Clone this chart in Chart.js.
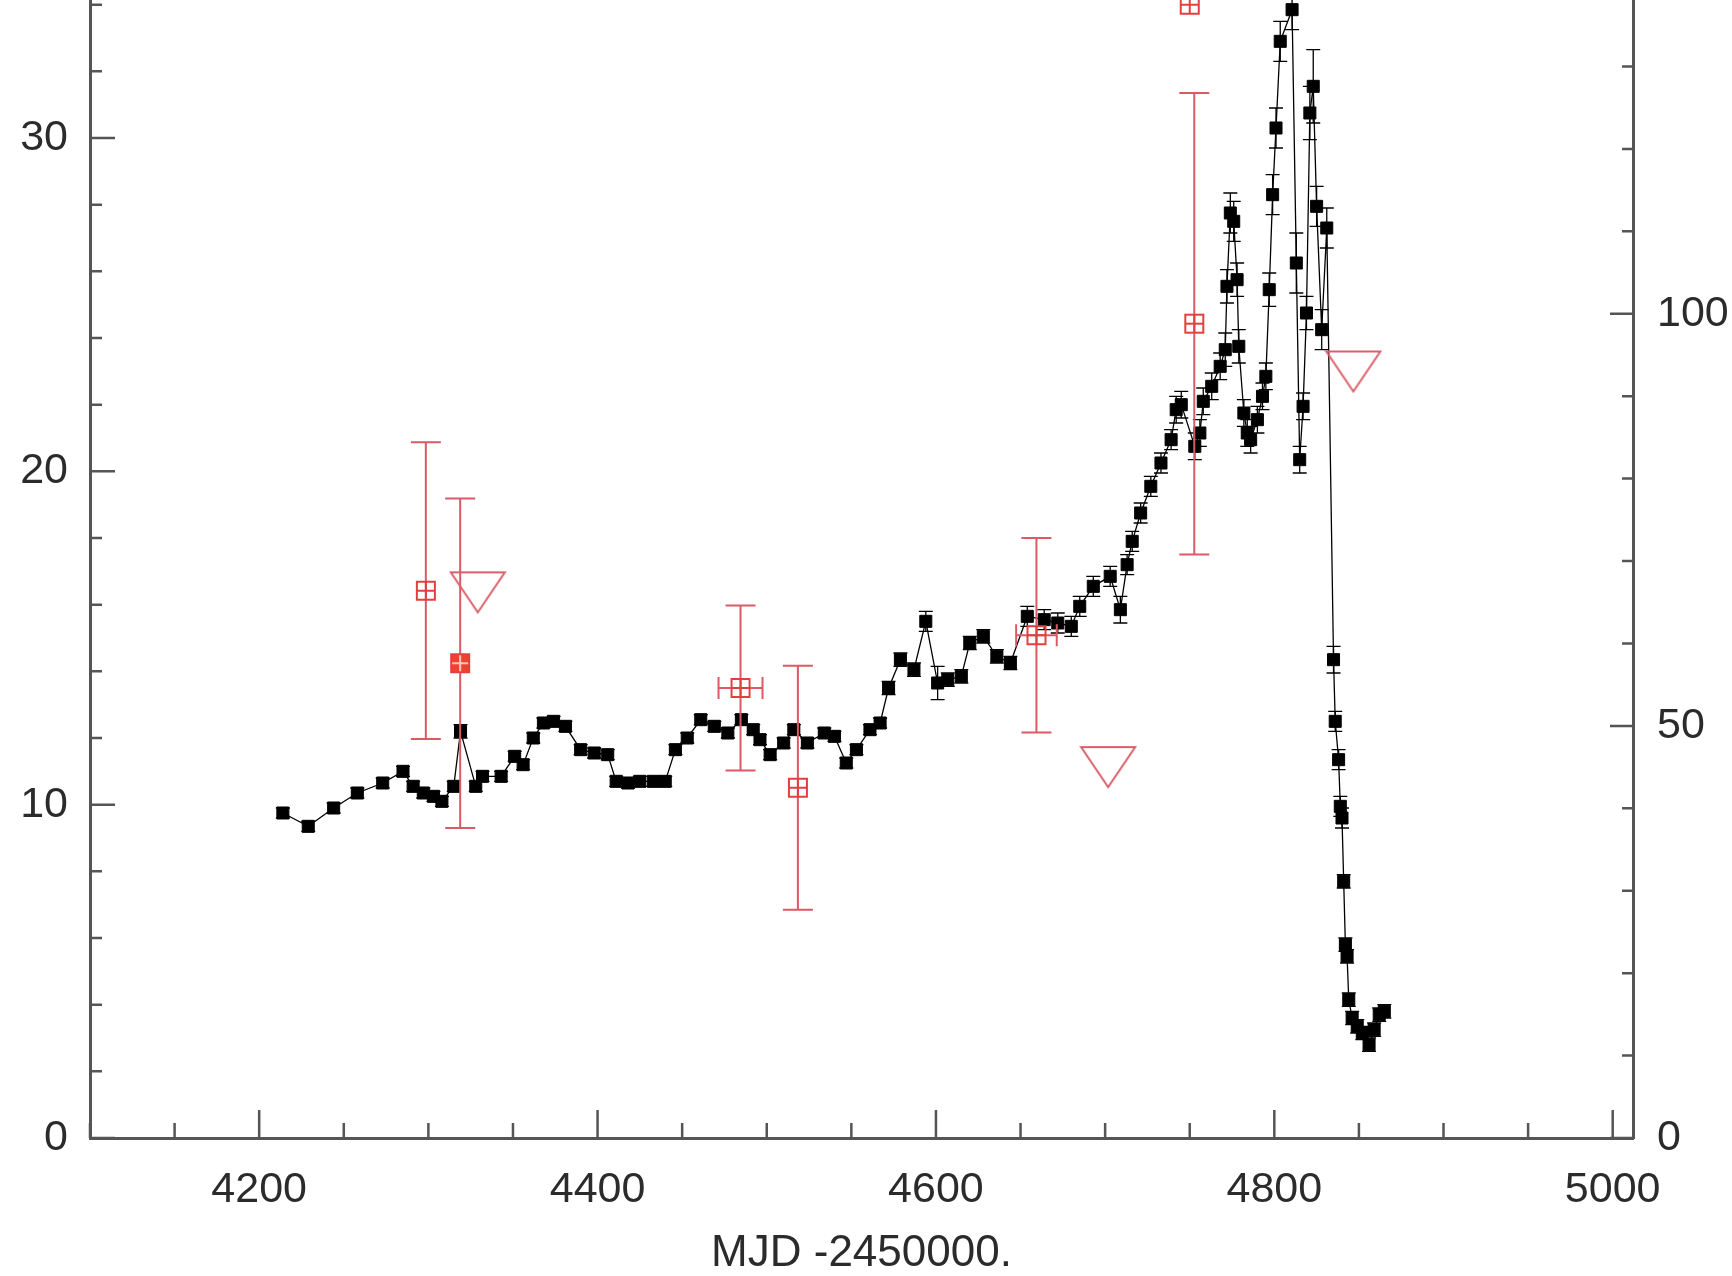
<!DOCTYPE html>
<html lang="en">
<head>
<meta charset="UTF-8">
<title>Light curve</title>
<script src="https://cdn.jsdelivr.net/npm/chart.js"></script>
<style>
    html, body { margin: 0; padding: 0; background: #fff; }
    canvas { display: block; }
</style>
</head>
<body>
<canvas id="lc" width="1732" height="1276"></canvas>
<script>
// black light curve (left axis)
const blackMjd = [
    4214, 4229, 4244, 4258, 4273, 4285, 4291, 4297, 4303, 4308,
    4315, 4319, 4328, 4332, 4343, 4351, 4356, 4362, 4368, 4374,
    4381, 4390, 4398, 4406, 4411, 4418, 4425, 4433, 4440, 4446,
    4453, 4461, 4469, 4477, 4485, 4492, 4496, 4502, 4510, 4516,
    4524, 4534, 4540, 4547, 4553, 4561, 4567, 4572, 4579, 4587,
    4594, 4601, 4607, 4615, 4620, 4628, 4636, 4644, 4654, 4664,
    4672, 4680, 4685, 4693, 4703, 4709, 4713, 4716, 4721, 4727,
    4733, 4739, 4742, 4745, 4753, 4756, 4758, 4763, 4768, 4771,
    4772, 4774, 4776, 4778, 4779, 4782, 4784, 4786, 4790, 4793,
    4795, 4797, 4799, 4801, 4803.5, 4810.5, 4813, 4815, 4817, 4819,
    4821, 4823, 4825, 4828, 4831, 4835, 4836, 4838, 4839, 4840,
    4841, 4842, 4843, 4844, 4846, 4849, 4852, 4856, 4859, 4862,
    4865
];
const blackFlux = [
    9.75, 9.35, 9.9, 10.35, 10.65, 11.0, 10.55, 10.35, 10.25, 10.1,
    10.55, 12.2, 10.55, 10.85, 10.85, 11.45, 11.2, 12.0, 12.45, 12.5,
    12.35, 11.65, 11.55, 11.5, 10.7, 10.65, 10.7, 10.7, 10.7, 11.65,
    12.0, 12.55, 12.35, 12.15, 12.55, 12.25, 11.95, 11.5, 11.85, 12.25,
    11.85, 12.15, 12.05, 11.25, 11.65, 12.25, 12.45, 13.5, 14.35, 14.05,
    15.5, 13.65, 13.75, 13.85, 14.85, 15.05, 14.45, 14.25, 15.65, 15.55,
    15.45, 15.35, 15.95, 16.55, 16.85, 15.85, 17.2, 17.9, 18.75, 19.55,
    20.25, 20.95, 21.85, 22.0, 20.75, 21.15, 22.1, 22.55, 23.15, 23.65,
    25.55, 27.75, 27.5, 25.75, 23.75, 21.75, 21.15, 20.95, 21.55, 22.25,
    22.85, 25.45, 28.3, 30.3, 32.9, 33.85, 26.25, 20.35, 21.95, 24.75,
    30.75, 31.55, 27.95, 24.25, 27.3, 14.35, 12.5, 11.35, 9.95, 9.6,
    7.7, 5.8, 5.45, 4.15, 3.6, 3.35, 3.15, 2.8, 3.25, 3.7,
    3.8
];
const blackErr = [
    0.15, 0.15, 0.15, 0.15, 0.15, 0.15, 0.15, 0.15, 0.15, 0.15,
    0.15, 0.2, 0.15, 0.15, 0.15, 0.15, 0.15, 0.15, 0.15, 0.15,
    0.15, 0.15, 0.15, 0.15, 0.15, 0.15, 0.15, 0.15, 0.15, 0.15,
    0.15, 0.15, 0.15, 0.15, 0.15, 0.15, 0.15, 0.15, 0.15, 0.15,
    0.15, 0.15, 0.15, 0.15, 0.15, 0.15, 0.15, 0.2, 0.2, 0.2,
    0.3, 0.5, 0.2, 0.2, 0.2, 0.2, 0.2, 0.2, 0.3, 0.3,
    0.3, 0.3, 0.3, 0.3, 0.3, 0.4, 0.3, 0.3, 0.3, 0.3,
    0.3, 0.3, 0.4, 0.4, 0.4, 0.4, 0.4, 0.4, 0.4, 0.5,
    0.5, 0.6, 0.6, 0.5, 0.5, 0.4, 0.4, 0.4, 0.4, 0.4,
    0.4, 0.5, 0.6, 0.6, 0.6, 0.6, 0.9, 0.4, 0.4, 0.5,
    0.8, 1.1, 0.6, 0.6, 0.6, 0.4, 0.3, 0.3, 0.3, 0.3,
    0.2, 0.2, 0.2, 0.2, 0.2, 0.2, 0.2, 0.2, 0.2, 0.2,
    0.2
];

// red detections (right axis)
const redMjd = [4298.5, 4318.8, 4484.5, 4518.4, 4659.4, 4752.7, 4750];
const redFlux = [66.4, 57.6, 54.6, 42.5, 61.0, 98.8, 137.5];
const redErr = [18, 20, 10, 14.8, 11.8, 28, 0];
const redXErr = [0, 0, 13, 0, 12, 0, 0];
const redFilled = [false, true, false, false, false, false, false];

// red upper limits (right axis)
const limMjd = [4329.2, 4701.8, 4846.7];
const limFlux = [66.2, 45.0, 93.0];

const xTickLabels = [4200, 4400, 4600, 4800, 5000];
const yTickLabels = [0, 10, 20, 30];
const y2TickLabels = [0, 50, 100];

const FONT = '"Liberation Sans", Arial, Helvetica, sans-serif';
const AXIS = '#555';
const TEXT = '#2b2b2b';
const RED_BAR = '#dc5a66';

// square marker with a cross inside
function squareMarker(filled) {
    const c = document.createElement('canvas');
    c.width = 24; c.height = 24;
    const g = c.getContext('2d');
    g.lineWidth = 2;
    if (filled) {
        g.fillStyle = '#f0402e';
        g.fillRect(2, 2, 20, 20);
        g.strokeStyle = '#ffc9bf';
    } else {
        g.strokeStyle = '#e2403e';
    }
    g.beginPath();
    g.moveTo(12, 3); g.lineTo(12, 21);
    g.moveTo(3, 12); g.lineTo(21, 12);
    g.stroke();
    g.strokeStyle = '#e2403e';
    g.strokeRect(3, 3, 18, 18);
    return c;
}

// open downward triangle for limits
function triangleMarker() {
    const c = document.createElement('canvas');
    c.width = 58; c.height = 44;
    const g = c.getContext('2d');
    g.strokeStyle = '#d9606a';
    g.lineWidth = 2;
    g.beginPath();
    g.moveTo(2, 2); g.lineTo(56, 2); g.lineTo(29, 42); g.closePath();
    g.stroke();
    return c;
}

const openSq = squareMarker(false);
const filledSq = squareMarker(true);
const triImg = triangleMarker();

function clipToArea(chart) {
    const a = chart.chartArea;
    chart.ctx.beginPath();
    chart.ctx.rect(a.left, a.top, a.right - a.left, a.bottom - a.top);
    chart.ctx.clip();
}

// error bars, drawn around the black dataset (index 2)
const errorBars = {
    id: 'errorBars',
    beforeDatasetDraw(chart, args) {
        if (args.index !== 2) return;
        const ctx = chart.ctx, x = chart.scales.x, y = chart.scales.y;
        ctx.save();
        clipToArea(chart);
        ctx.strokeStyle = '#000';
        ctx.lineWidth = 1.3;
        ctx.beginPath();
        blackMjd.forEach((m, i) => {
            const px = x.getPixelForValue(m);
            const lo = y.getPixelForValue(blackFlux[i] - blackErr[i]);
            const hi = y.getPixelForValue(blackFlux[i] + blackErr[i]);
            ctx.moveTo(px, lo); ctx.lineTo(px, hi);
            ctx.moveTo(px - 7, lo); ctx.lineTo(px + 7, lo);
            ctx.moveTo(px - 7, hi); ctx.lineTo(px + 7, hi);
        });
        ctx.stroke();
        ctx.restore();
    },
    afterDatasetDraw(chart, args) {
        if (args.index !== 2) return;
        const ctx = chart.ctx, x = chart.scales.x, y2 = chart.scales.y2;
        ctx.save();
        clipToArea(chart);
        ctx.strokeStyle = RED_BAR;
        ctx.lineWidth = 2;
        ctx.beginPath();
        redMjd.forEach((m, i) => {
            const px = x.getPixelForValue(m);
            const py = y2.getPixelForValue(redFlux[i]);
            if (redErr[i] > 0) {
                const lo = y2.getPixelForValue(redFlux[i] - redErr[i]);
                const hi = y2.getPixelForValue(redFlux[i] + redErr[i]);
                ctx.moveTo(px, lo); ctx.lineTo(px, hi);
                ctx.moveTo(px - 15, lo); ctx.lineTo(px + 15, lo);
                ctx.moveTo(px - 15, hi); ctx.lineTo(px + 15, hi);
            }
            if (redXErr[i] > 0) {
                const l = x.getPixelForValue(m - redXErr[i]);
                const r = x.getPixelForValue(m + redXErr[i]);
                ctx.moveTo(l, py); ctx.lineTo(r, py);
                ctx.moveTo(l, py - 11); ctx.lineTo(l, py + 11);
                ctx.moveTo(r, py - 11); ctx.lineTo(r, py + 11);
            }
        });
        ctx.stroke();
        ctx.restore();
    }
};

// tick marks pointing into the plot; minor every step, major on labelled values
function tickValues(scale, step) {
    const out = [];
    for (let v = Math.ceil(scale.min / step) * step; v <= scale.max + 1e-9; v += step) out.push(v);
    return out;
}

const inwardTicks = {
    id: 'inwardTicks',
    afterDraw(chart) {
        const ctx = chart.ctx;
        const { left, right, bottom } = chart.chartArea;
        const { x, y, y2 } = chart.scales;
        ctx.save();
        ctx.strokeStyle = AXIS;
        ctx.lineWidth = 2.5;
        ctx.beginPath();
        tickValues(x, 50).forEach(v => {
            const px = x.getPixelForValue(v);
            const len = xTickLabels.includes(v) ? 28 : 15;
            ctx.moveTo(px, bottom); ctx.lineTo(px, bottom - len);
        });
        tickValues(y, 2).forEach(v => {
            const py = y.getPixelForValue(v);
            const len = yTickLabels.includes(v) ? 25 : 12;
            ctx.moveTo(left, py); ctx.lineTo(left + len, py);
        });
        tickValues(y2, 10).forEach(v => {
            const py = y2.getPixelForValue(v);
            const len = y2TickLabels.includes(v) ? 23 : 11;
            ctx.moveTo(right, py); ctx.lineTo(right - len, py);
        });
        ctx.stroke();
        ctx.restore();
    }
};

const tickFont = { family: FONT, size: 43 };

function noPadding(s) {
    s.paddingTop = 0;
    s.paddingBottom = 0;
    s.paddingLeft = 0;
    s.paddingRight = 0;
}

new Chart(document.getElementById('lc'), {
    type: 'scatter',
    data: {
        datasets: [
            {
                label: 'limits',
                data: limMjd.map((m, i) => ({ x: m, y: limFlux[i] })),
                yAxisID: 'y2',
                pointStyle: triImg,
                pointRadius: 20
            },
            {
                label: 'red',
                data: redMjd.map((m, i) => ({ x: m, y: redFlux[i] })),
                yAxisID: 'y2',
                pointStyle: redFilled.map(f => f ? filledSq : openSq),
                pointRadius: 10
            },
            {
                label: 'black',
                data: blackMjd.map((m, i) => ({ x: m, y: blackFlux[i] })),
                yAxisID: 'y',
                showLine: true,
                borderColor: '#000',
                borderWidth: 1.3,
                pointStyle: 'rect',
                pointRadius: 8.5,
                pointBackgroundColor: '#000',
                pointBorderColor: '#000',
                pointBorderWidth: 1
            }
        ]
    },
    options: {
        responsive: false,
        animation: false,
        layout: { padding: 0, autoPadding: false },
        plugins: {
            legend: { display: false },
            tooltip: { enabled: false }
        },
        scales: {
            x: {
                type: 'linear',
                position: 'bottom',
                min: 4100,
                max: 5012,
                grid: { display: false, drawTicks: false },
                border: { display: true, color: AXIS, width: 3 },
                ticks: {
                    autoSkip: false,
                    maxRotation: 0,
                    padding: 26,
                    color: TEXT,
                    font: tickFont,
                    callback: v => String(v)
                },
                afterBuildTicks: s => { s.ticks = xTickLabels.map(v => ({ value: v })); },
                afterFit: s => { s.height = 138; noPadding(s); },
                title: {
                    display: true,
                    text: 'MJD -2450000.',
                    color: TEXT,
                    font: { family: FONT, size: 44, lineHeight: 1 },
                    padding: { top: 0, bottom: 0 }
                }
            },
            y: {
                type: 'linear',
                position: 'left',
                min: 0,
                max: 34.14,
                grid: { display: false, drawTicks: false },
                border: { display: true, color: AXIS, width: 3 },
                ticks: {
                    autoSkip: false,
                    padding: 22,
                    color: TEXT,
                    font: tickFont,
                    callback: v => String(v)
                },
                afterBuildTicks: s => { s.ticks = yTickLabels.map(v => ({ value: v })); },
                afterFit: s => { s.width = 90; noPadding(s); }
            },
            y2: {
                type: 'linear',
                position: 'right',
                min: 0,
                max: 138.07,
                grid: { display: false, drawTicks: false },
                border: { display: true, color: AXIS, width: 3 },
                ticks: {
                    autoSkip: false,
                    padding: 24,
                    color: TEXT,
                    font: tickFont,
                    callback: v => String(v)
                },
                afterBuildTicks: s => { s.ticks = y2TickLabels.map(v => ({ value: v })); },
                afterFit: s => { s.width = 99; noPadding(s); }
            }
        }
    },
    plugins: [errorBars, inwardTicks]
});
</script>
</body>
</html>
